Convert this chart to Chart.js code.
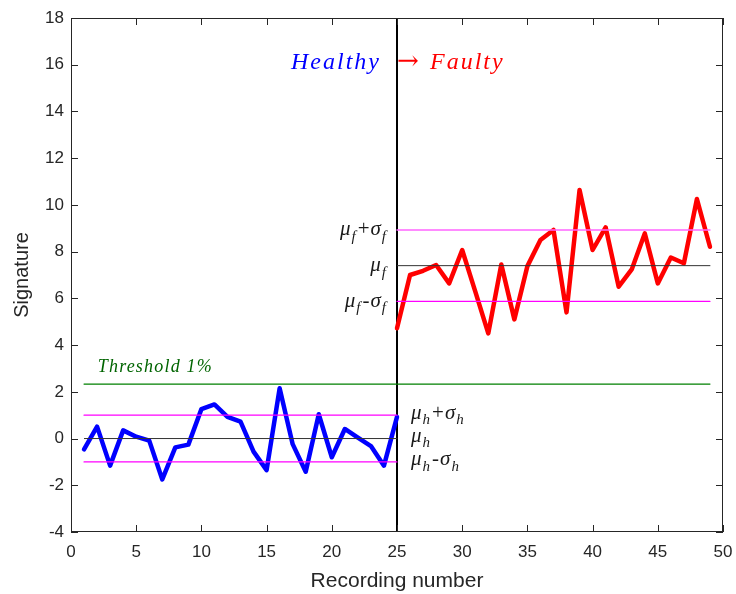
<!DOCTYPE html>
<html>
<head>
<meta charset="utf-8">
<script src="https://cdn.jsdelivr.net/npm/chart.js@4.4.0/dist/chart.umd.min.js"></script>
<style>
  html, body { margin: 0; padding: 0; background: #fff; }
  #wrap { width: 736px; height: 594px; }
</style>
</head>
<body>
<div id="wrap"><canvas id="chart" width="736" height="594"></canvas></div>
<script>
// recordings 1..25 healthy, 25..49 faulty
var healthyX = [1,2,3,4,5,6,7,8,9,10,11,12,13,14,15,16,17,18,19,20,21,22,23,24,25];
var healthyY = [-0.46,0.51,-1.16,0.35,0.08,-0.09,-1.75,-0.38,-0.26,1.26,1.46,0.93,0.72,-0.56,-1.35,2.15,-0.24,-1.42,1.04,-0.8,0.41,0.04,-0.32,-1.16,0.93];
var faultyX = [25,26,27,28,29,30,31,32,33,34,35,36,37,38,39,40,41,42,43,44,45,46,47,48,49];
var faultyY = [4.72,7.0,7.18,7.43,6.64,8.07,6.3,4.5,7.45,5.1,7.38,8.5,8.93,5.4,10.64,8.07,9.04,6.5,7.24,8.78,6.64,7.75,7.5,10.25,8.21];

// statistics lines
var muH = 0, sigmaH = 1.0;
var muF = 7.4, sigmaF = 1.53;
var threshold = 2.33;
var changeAt = 25;

var xTicks = [0,5,10,15,20,25,30,35,40,45,50];
var yTicks = [-4,-2,0,2,4,6,8,10,12,14,16,18];

function pts(xs, ys) {
  return xs.map(function(x, i) { return { x: x, y: ys[i] }; });
}
function hline(x0, x1, v) {
  return [{ x: x0, y: v }, { x: x1, y: v }];
}
function lineSet(data, color, width) {
  return { data: data, borderColor: color, borderWidth: width, pointRadius: 0, fill: false, tension: 0,
           borderJoinStyle: "round", borderCapStyle: "round" };
}

var mathFont = "italic 21px 'Liberation Serif'";
var subFont = "italic 15px 'Liberation Serif'";
var opFont = "21px 'Liberation Serif'";

// draws things like mu_f + sigma_f
function drawMath(ctx, parts, x, y, align) {
  var w = 0;
  parts.forEach(function(p) {
    ctx.font = p.up ? opFont : mathFont;
    p.w1 = ctx.measureText(p.t).width + (p.up ? 1 : 0);
    p.w2 = 0;
    if (p.sub) { ctx.font = subFont; p.w2 = ctx.measureText(p.sub).width + 3; }
    w += p.w1 + p.w2;
  });
  var cx = align === "right" ? x - w : x;
  ctx.textBaseline = "middle";
  ctx.textAlign = "left";
  parts.forEach(function(p) {
    ctx.font = p.up ? opFont : mathFont;
    ctx.fillText(p.t, cx, y);
    cx += p.w1;
    if (p.sub) {
      ctx.font = subFont;
      ctx.fillText(p.sub, cx + 1, y + 7);
      cx += p.w2;
    }
  });
}

var boxPlugin = {
  id: "boxPlugin",
  afterDatasetsDraw: function(chart) {
    var ctx = chart.ctx, a = chart.chartArea, xs = chart.scales.x, ys = chart.scales.y;
    ctx.save();
    ctx.strokeStyle = "#262626";
    ctx.lineWidth = 1;
    ctx.strokeRect(a.left + 0.5, a.top + 0.5, a.right - a.left - 1, a.bottom - a.top - 1);
    ctx.beginPath();
    xTicks.forEach(function(t) {
      var px = Math.round(xs.getPixelForValue(t)) + 0.5;
      ctx.moveTo(px, a.bottom); ctx.lineTo(px, a.bottom - 7);
      ctx.moveTo(px, a.top); ctx.lineTo(px, a.top + 7);
    });
    yTicks.forEach(function(t) {
      var py = Math.round(ys.getPixelForValue(t)) + 0.5;
      ctx.moveTo(a.left, py); ctx.lineTo(a.left + 7, py);
      ctx.moveTo(a.right, py); ctx.lineTo(a.right - 7, py);
    });
    ctx.stroke();

    // texts
    var cx = xs.getPixelForValue(changeAt);
    var ty = ys.getPixelForValue(16.1);
    ctx.textBaseline = "middle";
    ctx.font = "italic 24px 'Liberation Serif'";
    ctx.letterSpacing = "2px";
    ctx.fillStyle = "#0000ff";
    ctx.textAlign = "right";
    ctx.fillText("Healthy", cx - 16, ty);
    ctx.fillStyle = "#ff0000";
    ctx.textAlign = "left";
    ctx.letterSpacing = "0px";
    ctx.font = "26px 'DejaVu Serif'";
    ctx.fillText("\u2192", cx + 0, ty);
    ctx.font = "italic 24px 'Liberation Serif'";
    ctx.letterSpacing = "2px";
    ctx.fillText("Faulty", cx + 33, ty);

    ctx.fillStyle = "#006400";
    ctx.font = "italic 18px 'Liberation Serif'";
    ctx.letterSpacing = "1.2px";
    ctx.fillText("Threshold 1%", xs.getPixelForValue(2.05), ys.getPixelForValue(threshold + 0.7));
    ctx.letterSpacing = "0px";

    ctx.fillStyle = "#1a1a1a";
    var lx = cx - 9;
    drawMath(ctx, [{ t: "\u03bc", sub: "f" }, { t: "+", up: true }, { t: "\u03c3", sub: "f" }], lx, ys.getPixelForValue(muF + sigmaF), "right");
    drawMath(ctx, [{ t: "\u03bc", sub: "f" }], lx, ys.getPixelForValue(muF), "right");
    drawMath(ctx, [{ t: "\u03bc", sub: "f" }, { t: "-", up: true }, { t: "\u03c3", sub: "f" }], lx, ys.getPixelForValue(muF - sigmaF), "right");
    var rx = cx + 14;
    drawMath(ctx, [{ t: "\u03bc", sub: "h" }, { t: "+", up: true }, { t: "\u03c3", sub: "h" }], rx, ys.getPixelForValue(muH + sigmaH) - 2, "left");
    drawMath(ctx, [{ t: "\u03bc", sub: "h" }], rx, ys.getPixelForValue(muH) - 2, "left");
    drawMath(ctx, [{ t: "\u03bc", sub: "h" }, { t: "-", up: true }, { t: "\u03c3", sub: "h" }], rx, ys.getPixelForValue(muH - sigmaH) - 2, "left");
    ctx.restore();
  }
};

var ctx = document.getElementById("chart").getContext("2d");
var chart = new Chart(ctx, {
  type: "line",
  data: {
    datasets: [
      lineSet(hline(1, 49, threshold), "#008000", 1.2),
      lineSet(hline(1, 25, muH + sigmaH), "#ff00ff", 1.2),
      lineSet(hline(1, 25, muH), "#333333", 1),
      lineSet(hline(1, 25, muH - sigmaH), "#ff00ff", 1.2),
      lineSet(hline(25, 49, muF + sigmaF), "#ff66ff", 1.5),
      lineSet(hline(25, 49, muF), "#333333", 1),
      lineSet(hline(25, 49, muF - sigmaF), "#ff00ff", 1.2),
      lineSet(pts(healthyX, healthyY), "#0000ff", 4.5),
      lineSet(pts(faultyX, faultyY), "#ff0000", 4.5),
      lineSet([{ x: changeAt, y: -4 }, { x: changeAt, y: 18 }], "#000000", 2)
    ]
  },
  options: {
    responsive: false,
    animation: false,
    layout: { padding: { top: 18, right: 13, left: 0, bottom: 0 } },
    plugins: { legend: { display: false }, tooltip: { enabled: false } },
    scales: {
      x: {
        type: "linear",
        min: 0, max: 50,
        afterBuildTicks: function(s) { s.ticks = xTicks.map(function(v) { return { value: v }; }); },
        afterFit: function(s) { s.height = 62; s.paddingLeft = 0; s.paddingRight = 0; },
        grid: { display: false, drawTicks: false },
        border: { display: false },
        ticks: { color: "#262626", padding: 10, font: { family: "Liberation Sans", size: 17 } },
        title: { display: true, text: "Recording number", color: "#262626", padding: { top: 2, bottom: 0 }, font: { family: "Liberation Sans", size: 21 } }
      },
      y: {
        type: "linear",
        min: -4, max: 18,
        afterBuildTicks: function(s) { s.ticks = yTicks.map(function(v) { return { value: v }; }); },
        afterFit: function(s) { s.width = 71; s.paddingTop = 0; s.paddingBottom = 0; },
        grid: { display: false, drawTicks: false },
        border: { display: false },
        ticks: { color: "#262626", padding: 7, font: { family: "Liberation Sans", size: 17 } },
        title: { display: true, text: "Signature", color: "#262626", padding: { top: 10, bottom: 0 }, font: { family: "Liberation Sans", size: 20 } }
      }
    }
  },
  plugins: [boxPlugin]
});
</script>
</body>
</html>
